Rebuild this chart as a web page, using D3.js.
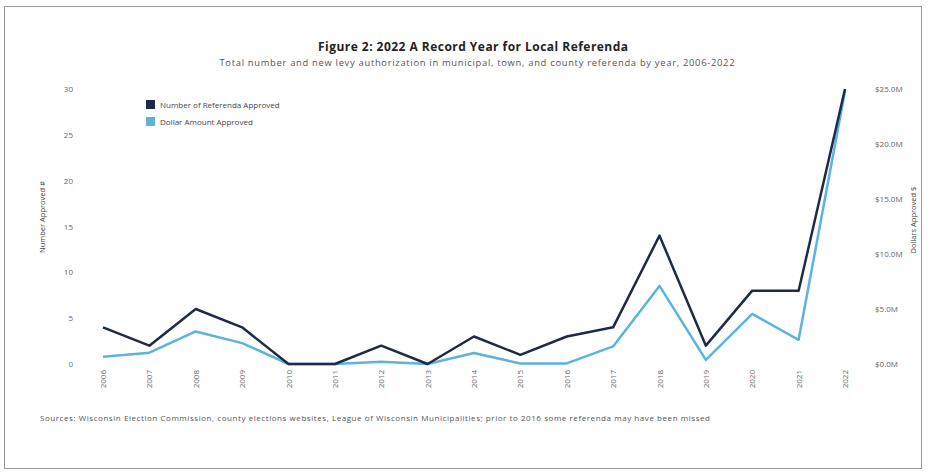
<!DOCTYPE html>
<html><head><meta charset="utf-8">
<script src="https://cdn.jsdelivr.net/npm/d3@7"></script>
<style>
body{margin:0;background:#fff;}
text{font-family:"Open Sans","Liberation Sans",sans-serif;}
</style></head>
<body><svg id="c" width="930" height="473"></svg>
<script>
const years = ["2006","2007","2008","2009","2010","2011","2012","2013","2014","2015","2016","2017","2018","2019","2020","2021","2022"];
const numberApproved = [4,2,6,4,0,0,2,0,3,1,3,4,14,2,8,8,30];
const dollarsApproved = [0.67,1.03,2.96,1.9,0,0,0.2,0,1.0,0.05,0.05,1.6,7.1,0.37,4.55,2.2,24.8];
const leftTicks = [0,5,10,15,20,25,30];
const rightTicks = [0,5,10,15,20,25];
const seriesNames = ["Number of Referenda Approved","Dollar Amount Approved"];

const svg = d3.select("#c");
const darkC = "#1e2b47", lightC = "#5cb3df";

svg.append("rect").attr("x",4.5).attr("y",6.5).attr("width",917).attr("height",462)
  .attr("fill","none").attr("stroke","#9a9a9a").attr("stroke-width",1);

svg.append("text").attr("x",473).attr("y",51).attr("text-anchor","middle")
  .attr("font-size",12).attr("font-weight","bold").attr("fill","#222")
  .attr("textLength",310).attr("lengthAdjust","spacing")
  .text("Figure 2: 2022 A Record Year for Local Referenda");
svg.append("text").attr("x",477).attr("y",66).attr("text-anchor","middle")
  .attr("font-size",9.4).attr("fill","#555")
  .attr("textLength",515).attr("lengthAdjust","spacing")
  .text("Total number and new levy authorization in municipal, town, and county referenda by year, 2006-2022");

const x = d3.scalePoint().domain(years).range([103,845]);
const yL = d3.scaleLinear().domain([0,30]).range([364,89]);
const yR = d3.scaleLinear().domain([0,25]).range([364,89]);

const axL = svg.append("g").attr("transform","translate(76,0)")
  .call(d3.axisLeft(yL).tickValues(leftTicks).tickSize(0).tickPadding(3));
const axR = svg.append("g").attr("transform","translate(872,0)")
  .call(d3.axisRight(yR).tickValues(rightTicks).tickSize(0).tickPadding(3)
  .tickFormat(d=>"$"+d.toFixed(1)+"M"));
const axX = svg.append("g").attr("transform","translate(0,368)")
  .call(d3.axisBottom(x).tickSize(0).tickPadding(0));
axX.selectAll("text").attr("transform","rotate(-90)").attr("text-anchor","end")
  .attr("dx","0").attr("dy","0.32em").attr("x",-2).attr("y",0);
[axL,axR,axX].forEach(a=>{a.select(".domain").remove();
  a.selectAll("text").attr("font-size",8).attr("fill","#666").attr("font-family","'Open Sans',sans-serif");});

svg.append("text").attr("transform","translate(45,217) rotate(-90)").attr("text-anchor","middle")
  .attr("font-size",7.5).attr("fill","#444").text("Number Approved #");
svg.append("text").attr("transform","translate(916,220) rotate(-90)").attr("text-anchor","middle")
  .attr("font-size",7.5).attr("fill","#444").text("Dollars Approved $");

const lineL = d3.line().x((d,i)=>x(years[i])).y(d=>yL(d));
const lineR = d3.line().x((d,i)=>x(years[i])).y(d=>yR(d));
svg.append("path").datum(dollarsApproved).attr("d",lineR).attr("fill","none")
  .attr("stroke",lightC).attr("stroke-width",2.5).attr("stroke-linejoin","round");
svg.append("path").datum(numberApproved).attr("d",lineL).attr("fill","none")
  .attr("stroke",darkC).attr("stroke-width",2.5).attr("stroke-linejoin","round");

const lg = svg.append("g").attr("transform","translate(146,100)");
[darkC,lightC].forEach((c,i)=>{
  lg.append("rect").attr("x",0).attr("y",i*17).attr("width",9).attr("height",9).attr("fill",c);
  lg.append("text").attr("x",14).attr("y",i*17+7.5).attr("font-size",8).attr("fill","#444").text(seriesNames[i]);
});

svg.append("text").attr("x",40).attr("y",421).attr("font-size",8).attr("fill","#555")
  .attr("textLength",670).attr("lengthAdjust","spacing")
  .text("Sources: Wisconsin Election Commission, county elections websites, League of Wisconsin Municipalities; prior to 2016 some referenda may have been missed");
</script></body></html>
